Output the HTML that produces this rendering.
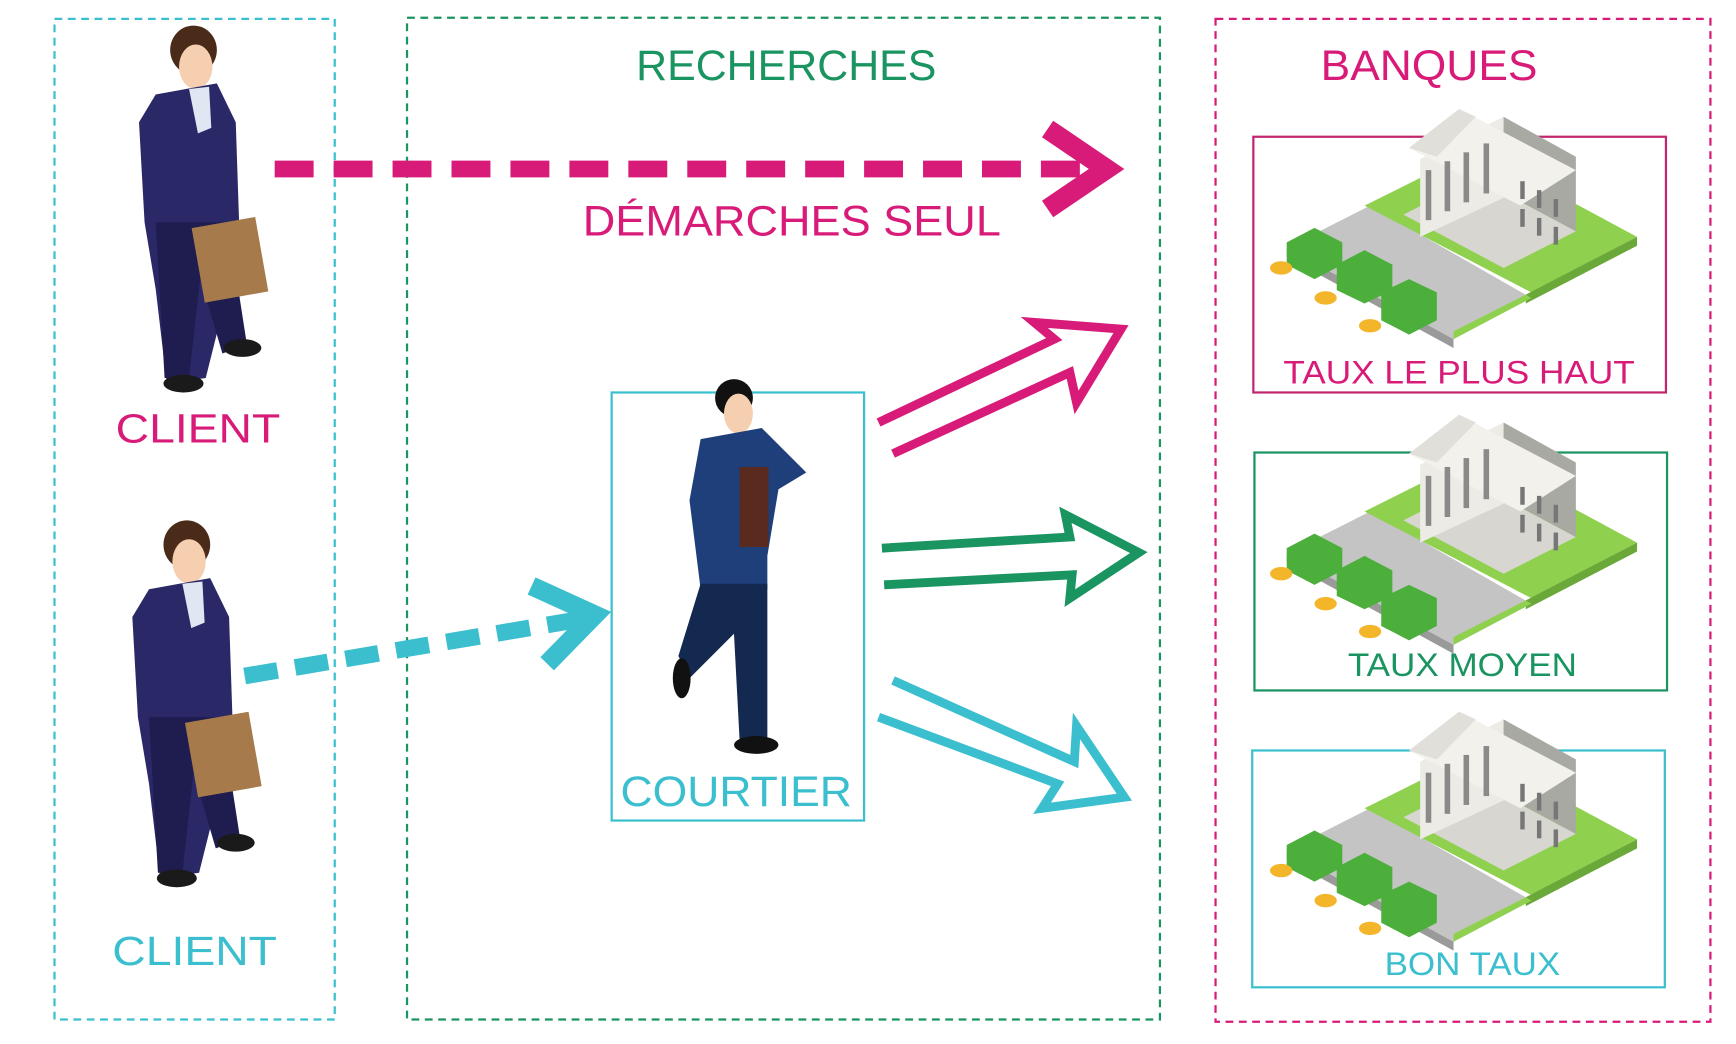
<!DOCTYPE html>
<html><head><meta charset="utf-8"><style>
html,body{margin:0;padding:0;background:#fff;}
svg{display:block;}
text{font-family:"Liberation Sans",sans-serif;font-weight:normal;}
</style></head><body>
<svg width="1736" height="1044" viewBox="0 0 1561 939" preserveAspectRatio="none" xmlns="http://www.w3.org/2000/svg">
<defs>
<g id="bank">
  <!-- ground -->
  <polygon points="30,100 105,62 250,145 180,182" fill="#c4c4c4"/>
  <polygon points="30,100 180,182 180,190 30,108" fill="#9a9a9a"/>
  <polygon points="100,62 200,12 345,90 250,140" fill="#8fd14f"/>
  <polygon points="245,142 345,90 345,98 245,150" fill="#6aa83a"/>
  <polygon points="180,182 250,145 245,142 180,175" fill="#8fd14f"/>
  <!-- building -->
  <polygon points="135,70 200,37 290,85 225,118" fill="#d8d6d0"/>
  <polygon points="150,20 225,-18 225,55 150,90" fill="#ecebe6"/>
  <polygon points="225,-18 290,18 290,85 225,50" fill="#a9a9a4"/>
  <polygon points="140,10 185,-25 290,30 240,62" fill="#f2f1ec"/>
  <polygon points="140,10 185,-25 200,-18 165,18" fill="#e0dfd9"/>
  <rect x="155" y="30" width="5" height="45" fill="#8a8a88"/>
  <rect x="172" y="22" width="5" height="45" fill="#8a8a88"/>
  <rect x="189" y="14" width="5" height="45" fill="#8a8a88"/>
  <rect x="207" y="6" width="5" height="45" fill="#8a8a88"/>
  <rect x="240" y="40" width="4" height="16" fill="#777"/><rect x="255" y="48" width="4" height="16" fill="#777"/><rect x="270" y="56" width="4" height="16" fill="#777"/>
  <rect x="240" y="65" width="4" height="16" fill="#777"/><rect x="255" y="73" width="4" height="16" fill="#777"/><rect x="270" y="81" width="4" height="16" fill="#777"/>
  <!-- money -->
  <g fill="#4caf3c">
    <polygon points="30,95 55,82 80,95 80,115 55,128 30,115"/>
    <polygon points="75,115 100,102 125,115 125,138 100,150 75,138"/>
    <polygon points="115,140 140,128 165,140 165,165 140,178 115,165"/>
  </g>
  <g fill="#f3b52a">
    <ellipse cx="25" cy="118" rx="10" ry="6"/>
    <ellipse cx="65" cy="145" rx="10" ry="6"/>
    <ellipse cx="105" cy="170" rx="10" ry="6"/>
  </g>
</g>
</defs>

<rect x="49" y="17" width="252" height="900" fill="none" stroke="#3bbfcf" stroke-width="2" stroke-dasharray="7,5"/>
<rect x="366" y="16" width="677" height="901" fill="none" stroke="#1a9460" stroke-width="2" stroke-dasharray="7,5"/>
<rect x="1093" y="17" width="445" height="902" fill="none" stroke="#d81b78" stroke-width="2" stroke-dasharray="7,5"/>

<text x="707" y="72" font-size="38" fill="#1a9460" text-anchor="middle" textLength="270" lengthAdjust="spacingAndGlyphs">RECHERCHES</text>
<text x="1285" y="72" font-size="38" fill="#d81b78" text-anchor="middle" textLength="195" lengthAdjust="spacingAndGlyphs">BANQUES</text>

<line x1="247" y1="152" x2="985" y2="152" stroke="#d81b78" stroke-width="15" stroke-dasharray="35,18"/>
<polyline points="942,116 995,152 942,188" fill="none" stroke="#d81b78" stroke-width="18" stroke-linejoin="miter"/>
<text x="712" y="212" font-size="38" fill="#d81b78" text-anchor="middle" textLength="376" lengthAdjust="spacingAndGlyphs">DÉMARCHES SEUL</text>

<g id="c1">
  <ellipse cx="174" cy="45" rx="21" ry="22" fill="#4a2a18"/>
  <ellipse cx="176" cy="60" rx="15" ry="20" fill="#f6cfb0"/>
  <polygon points="140,85 195,75 212,110 215,200 205,260 185,340 150,345 140,260 130,200 125,110" fill="#2b2868"/>
  <polygon points="170,80 188,78 190,115 178,120" fill="#dfe7f2"/>
  <polygon points="140,200 205,200 222,310 200,318 180,250 170,340 148,340" fill="#1f1c4f"/>
  <rect x="178" y="200" width="58" height="68" fill="#a67a4b" transform="rotate(-10 205 235)"/>
  <ellipse cx="165" cy="345" rx="18" ry="8" fill="#1a1a1a"/>
  <ellipse cx="218" cy="313" rx="17" ry="8" fill="#1a1a1a"/>
</g>
<use href="#c1" transform="translate(-6,445)"/>
<text x="178" y="398" font-size="37" fill="#d81b78" text-anchor="middle" textLength="148" lengthAdjust="spacingAndGlyphs">CLIENT</text>
<text x="175" y="868" font-size="37" fill="#3bbfcf" text-anchor="middle" textLength="148" lengthAdjust="spacingAndGlyphs">CLIENT</text>

<line x1="220" y1="608" x2="528" y2="556" stroke="#3bbfcf" stroke-width="15" stroke-dasharray="30,16"/>
<polyline points="478,527 535,553 492,597" fill="none" stroke="#3bbfcf" stroke-width="17"/>

<rect x="550" y="353" width="227" height="385" fill="none" stroke="#3bbfcf" stroke-width="2"/>
<ellipse cx="660" cy="358" rx="17" ry="17" fill="#111"/>
<ellipse cx="664" cy="372" rx="13" ry="18" fill="#f6cfb0"/>
<polygon points="630,395 685,385 725,425 700,440 690,500 690,530 630,530 620,450" fill="#1e3f7a"/>
<rect x="665" y="420" width="26" height="72" fill="#5a2a1e"/>
<polygon points="630,525 690,525 690,665 665,665 660,570 620,610 610,590" fill="#13294f"/>
<ellipse cx="680" cy="670" rx="20" ry="8" fill="#111"/>
<ellipse cx="613" cy="610" rx="8" ry="18" fill="#111"/>
<text x="662" y="725" font-size="38" fill="#3bbfcf" text-anchor="middle" textLength="208" lengthAdjust="spacingAndGlyphs">COURTIER</text>

<polyline points="790,380 948,305 930,290 1008,296 968,362 962,335 803,408" fill="none" stroke="#d81b78" stroke-width="8" stroke-linejoin="miter"/>
<polyline points="793,493 962,483 958,463 1024,497 962,538 964,517 795,526" fill="none" stroke="#1a9460" stroke-width="8" stroke-linejoin="miter"/>
<polyline points="803,612 966,685 968,653 1011,717 937,727 951,705 790,645" fill="none" stroke="#3bbfcf" stroke-width="8" stroke-linejoin="miter"/>

<rect x="1127" y="123" width="371" height="230" fill="none" stroke="#c2256e" stroke-width="2"/>
<use href="#bank" transform="translate(1127,123)"/>
<text x="1312" y="345" font-size="29" fill="#d81b78" text-anchor="middle" textLength="316" lengthAdjust="spacingAndGlyphs">TAUX LE PLUS HAUT</text>

<rect x="1128" y="407" width="371" height="214" fill="none" stroke="#1a9460" stroke-width="2"/>
<use href="#bank" transform="translate(1127,398)"/>
<text x="1315" y="608" font-size="29" fill="#1a9460" text-anchor="middle" textLength="206" lengthAdjust="spacingAndGlyphs">TAUX MOYEN</text>

<rect x="1126" y="675" width="371" height="213" fill="none" stroke="#3bbfcf" stroke-width="2"/>
<use href="#bank" transform="translate(1127,665)"/>
<text x="1324" y="877" font-size="29" fill="#3bbfcf" text-anchor="middle" textLength="158" lengthAdjust="spacingAndGlyphs">BON TAUX</text>
</svg>
</body></html>
